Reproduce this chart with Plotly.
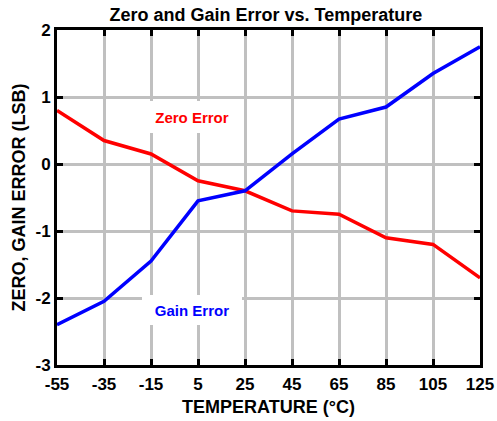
import plotly.graph_objects as go

temps = [-55, -35, -15, 5, 25, 45, 65, 85, 105, 125]
zero_error = [0.80, 0.35, 0.15, -0.25, -0.40, -0.70, -0.75, -1.10, -1.20, -1.70]
gain_error = [-2.40, -2.05, -1.45, -0.55, -0.40, 0.15, 0.67, 0.85, 1.35, 1.75]
x_ticks = [-55, -35, -15, 5, 25, 45, 65, 85, 105, 125]
y_ticks = [-3, -2, -1, 0, 1, 2]

FONT = "Arial, 'Liberation Sans', Helvetica, sans-serif"

fig = go.Figure()
fig.add_trace(go.Scatter(x=temps, y=zero_error, mode="lines",
                         line=dict(color="#ff0000", width=3.5), name="Zero Error",
                         showlegend=False))
fig.add_trace(go.Scatter(x=temps, y=gain_error, mode="lines",
                         line=dict(color="#0000ff", width=3.5), name="Gain Error",
                         showlegend=False))

fig.add_annotation(x=2.4, y=0.70, text="Zero Error", showarrow=False,
                   font=dict(family=FONT, size=15, color="#ff0000", weight="bold"),
                   bgcolor="white", width=104, height=32, borderpad=0, borderwidth=0)
fig.add_annotation(x=2.4, y=-2.18, text="Gain Error", showarrow=False,
                   font=dict(family=FONT, size=15, color="#0000ff", weight="bold"),
                   bgcolor="white", width=100, height=30, borderpad=0, borderwidth=0)

axis_common = dict(
    showline=True, linecolor="black", linewidth=3, mirror="ticks",
    ticks="inside", ticklen=6, tickwidth=3, tickcolor="black",
    showgrid=True, gridcolor="#c0c0c0", gridwidth=3,
    zeroline=False, automargin=False,
    tickfont=dict(family=FONT, size=17, color="black", weight="bold"),
)

fig.update_xaxes(range=[-55, 125], tickvals=x_ticks, ticktext=[str(v) for v in x_ticks],
                 ticklabelstandoff=2,
                 title=dict(text="TEMPERATURE (°C)", standoff=7,
                            font=dict(family=FONT, size=18, color="black", weight="bold")),
                 **axis_common)
fig.update_yaxes(range=[-3, 2], tickvals=y_ticks, ticktext=[str(v) for v in y_ticks],
                 title=dict(text="ZERO, GAIN ERROR (LSB)", standoff=6,
                            font=dict(family=FONT, size=18, color="black", weight="bold")),
                 **axis_common)

fig.update_layout(
    width=497, height=421,
    margin=dict(l=57, r=17, t=30, b=56, autoexpand=False),
    plot_bgcolor="white", paper_bgcolor="white",
    title=dict(text="Zero and Gain Error vs. Temperature", x=0.535, xanchor="center",
               y=0.965, yanchor="middle", automargin=False,
               font=dict(family=FONT, size=18, color="black", weight="bold")),
)

fig.write_html("out.html", config={"displayModeBar": False},
               post_script="document.body.style.margin='0';document.body.style.padding='0';")
